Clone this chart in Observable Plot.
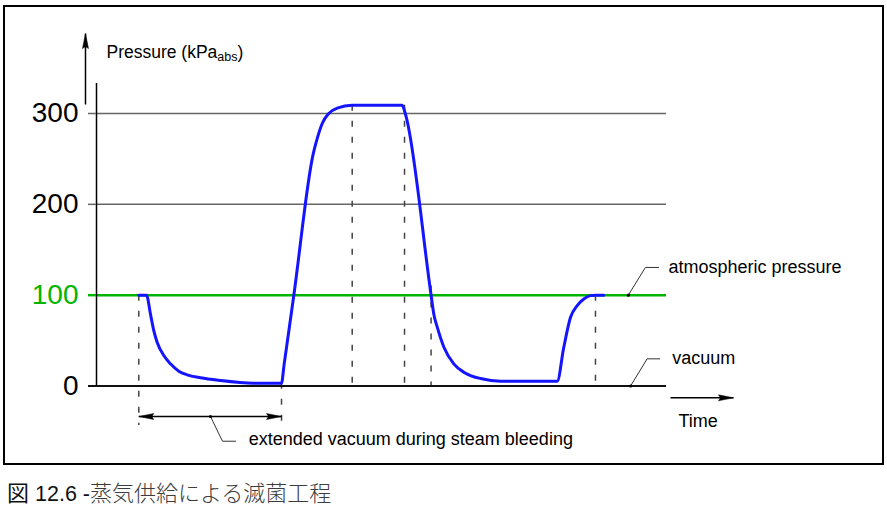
<!DOCTYPE html>
<html>
<head>
<meta charset="utf-8">
<script src="https://cdn.jsdelivr.net/npm/d3@7"></script>
<script src="https://cdn.jsdelivr.net/npm/@observablehq/plot@0.6"></script>
<style>
  body { margin: 0; background: #fff; width: 887px; height: 517px; position: relative; overflow: hidden; font-family: "Liberation Sans", Arial, sans-serif; }
  #chart { position: absolute; left: 0; top: 0; }
  #frame { position: absolute; left: 3px; top: 5px; width: 881px; height: 460px; border: 2px solid #000; box-sizing: border-box; pointer-events: none; }
  #caption { position: absolute; left: 7px; top: 477px; font-size: 21.5px; line-height: 28px; color: #111; white-space: nowrap; }
  #caption .cjk { font-family: "Noto Sans CJK JP", sans-serif; font-size: 22px; }
  #caption .jp { color: #3c3c3c; font-weight: 300; }
</style>
</head>
<body>
<div id="chart"></div>
<div id="frame"></div>
<div id="caption"><span class="cjk">図</span> 12.6 -<span class="cjk jp">蒸気供給による滅菌工程</span></div>
<script>
// ---- Data (time in arbitrary units, pressure in kPa abs) ----
const time = [7.42, 8.77, 9.47, 10.05, 10.65, 11.81, 12.98, 14.44, 15.91, 18.25, 21.75, 27.6, 32.46,
  32.9, 34.6, 38.0, 38.7, 39.6, 40.75, 42.23, 44.86, 53.63, 54.21, 58.7, 59.18, 59.77, 60.93,
  62.68, 64.44, 65.61, 67.37, 70.88, 80.82, 81.98, 83.16, 84.33, 85.49, 86.67, 87.54, 89.0];
const pressure = [100, 100, 79, 61, 48, 33.5, 24.4, 16.3, 12.3, 9, 6, 3.1, 3,
  23, 99, 255, 272, 289, 300, 306, 309, 309, 299, 100, 79, 65, 43,
  24.4, 15.2, 11.5, 8.2, 5.3, 5.3, 42.6, 75.6, 88.5, 95.8, 99.5, 100, 100];

const gridTicks = [200, 300];
const atmosphericTick = [100];
const vacuumTick = [0];

// dashed phase markers
const phaseTimes = [7.42, 32.46, 44.86, 54.04, 58.7, 87.54];
const phaseTop = [100, 3, 309, 309, 110, 100];
const phaseBottom = [-43.5, -43.5, 0, 0, 0, 0];

// annotation texts
const annoText = ["atmospheric pressure", "vacuum", "Time", "extended vacuum during steam bleeding"];
const annoTime = [100.35, 101, 102.1, 26.7];
const annoPressure = [124.2, 23.7, -45.4, -65.5];

// ---- Build ----
const green = "#00b400";
const curveData = time.map((t, i) => ({t, p: pressure[i]}));
const phases = phaseTimes.map((t, i) => ({t, top: phaseTop[i], bottom: phaseBottom[i]}));
const annos = annoText.map((s, i) => ({s, t: annoTime[i], p: annoPressure[i]}));

const leaders = [
  {g: "atm", t: 93.3, p: 100}, {g: "atm", t: 96.3, p: 130.5}, {g: "atm", t: 98.6, p: 130.5},
  {g: "vac", t: 93.7, p: 0}, {g: "vac", t: 96.6, p: 29.9}, {g: "vac", t: 98.8, p: 29.9},
  {g: "ext", t: 20, p: -33.6}, {g: "ext", t: 22.1, p: -60.8}, {g: "ext", t: 24.4, p: -60.8}
];
const leaderDots = leaders.filter((d, i) => i % 3 === 0);

const arrows = [
  {x1: -1.93, y1: 309.9, x2: -1.93, y2: 388, rot: 0},     // pressure axis arrow
  {x1: 100.7, y1: -13, x2: 111.75, y2: -13, rot: 90},     // time arrow
  {x1: 20, y1: -33.6, x2: 7.42, y2: -33.6, rot: -90},     // span arrow left
  {x1: 20, y1: -33.6, x2: 32.46, y2: -33.6, rot: 90}      // span arrow right
];

// filled, narrow arrowhead; tip at origin pointing up
const arrowHead = {
  draw(context) {
    context.moveTo(0, 0);
    context.lineTo(-3, 15);
    context.lineTo(0, 13);
    context.lineTo(3, 15);
    context.closePath();
  }
};

const plot = Plot.plot({
  width: 887,
  height: 470,
  marginLeft: 96,
  marginRight: 221,
  marginTop: 113,
  marginBottom: 84.5,
  x: {domain: [0, 100], axis: null},
  y: {domain: [0, 300], axis: null},
  style: {fontFamily: '"Liberation Sans", Arial, sans-serif', fontSize: "18px", background: "transparent", color: "#000"},
  marks: [
    Plot.ruleY(gridTicks, {x1: 0, x2: 100, stroke: "#666", strokeWidth: 1.5}),
    Plot.ruleX(phases, {x: "t", y1: "top", y2: "bottom", stroke: "#444", strokeWidth: 1.5, strokeDasharray: "6,10"}),
    Plot.ruleY(atmosphericTick, {x1: 0, x2: 100, stroke: green, strokeWidth: 2.5}),
    Plot.ruleY(vacuumTick, {x1: 0, x2: 100, stroke: "#111", strokeWidth: 2}),
    Plot.ruleX([0], {y1: 0, y2: 333, stroke: "#000", strokeWidth: 1.5}),
    Plot.axisY(gridTicks, {tickSize: 8, tickPadding: 10, stroke: "#666", strokeWidth: 1.5, fill: "#000", fontSize: 28, label: null}),
    Plot.axisY(atmosphericTick, {tickSize: 8, tickPadding: 10, stroke: green, strokeWidth: 2.5, fill: green, fontSize: 28, label: null}),
    Plot.axisY(vacuumTick, {tickSize: 8, tickPadding: 10, stroke: "#111", strokeWidth: 2, fill: "#000", fontSize: 28, label: null}),
    Plot.line(curveData, {x: "t", y: "p", curve: "monotone-x", stroke: "#1414ff", strokeWidth: 3}),
    Plot.line(leaders, {x: "t", y: "p", z: "g", stroke: "#333", strokeWidth: 1}),
    Plot.dot(leaderDots, {x: "t", y: "p", r: 1.6, fill: "#000", stroke: null}),
    Plot.link(arrows, {x1: "x1", y1: "y1", x2: "x2", y2: "y2", stroke: "#000", strokeWidth: 1.5}),
    Plot.dot(arrows, {x: "x2", y: "y2", symbol: arrowHead, rotate: "rot", fill: "#000", stroke: "#000", strokeWidth: 0.5}),
    Plot.text(annos, {x: "t", y: "p", text: "s", textAnchor: "start", lineAnchor: "bottom", fontSize: 18, fill: "#000"}),
    Plot.text(["Pressure (kPa"], {x: 1.75, y: 360.6, text: d => d, textAnchor: "start", lineAnchor: "bottom", fontSize: 17.5, fill: "#000"})
  ]
});
document.getElementById("chart").appendChild(plot);

// subscript for the axis label
d3.select(plot).selectAll("text").filter(function() { return this.textContent === "Pressure (kPa"; })
  .each(function() {
    const t = d3.select(this);
    t.append("tspan").attr("font-size", 12.5).attr("dy", 2.5).text("abs");
    t.append("tspan").attr("dy", -2.5).text(")");
  });
</script>
</body>
</html>
